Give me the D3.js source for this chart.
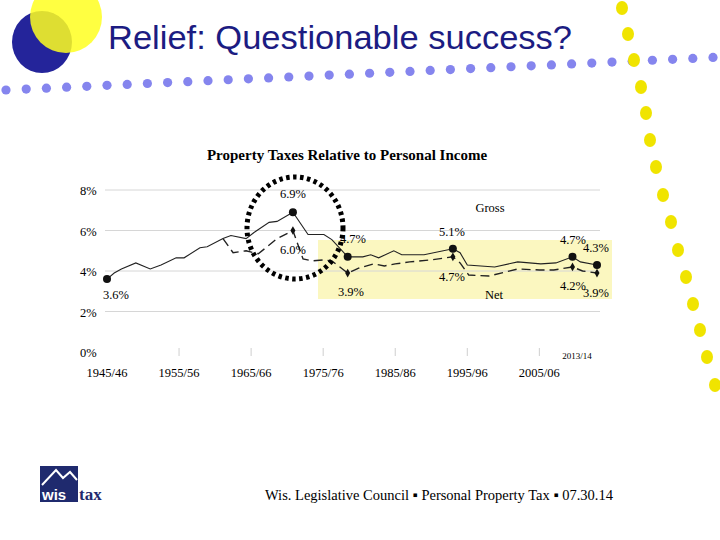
<!DOCTYPE html>
<html><head><meta charset="utf-8">
<script src="https://cdn.jsdelivr.net/npm/d3@7"></script>
<style>body{margin:0;background:#fff}</style></head>
<body><svg id="c" width="720" height="540"></svg>
<script>
const title = "Relief:  Questionable success?";
const chartTitle = "Property Taxes Relative to Personal Income";
const xTickYears = [1945,1955,1965,1975,1985,1995,2005];
const xTickLabels = ["1945/46","1955/56","1965/66","1975/76","1985/86","1995/96","2005/06"];
const yTicks = [0,2,4,6,8];
const grossYears = [1945,1946,1947,1949,1951,1952.5,1954.6,1955.7,1957.9,1958.9,1961.1,1962.2,1964.3,1965.4,1967.5,1968.6,1970.8,1972.9,1975.1,1976.2,1978.4,1980.5,1981.6,1982.7,1984.8,1985.9,1989,1993,1994,1995,1998.8,2002,2005.2,2007.3,2009.6,2010.7,2013];
const grossVals  = [3.6,3.9,4.1,4.4,4.1,4.3,4.65,4.65,5.15,5.2,5.6,5.75,5.6,5.9,6.4,6.45,6.9,5.8,5.8,5.55,4.7,4.7,4.8,4.65,5.0,4.8,4.8,5.1,4.9,4.3,4.2,4.45,4.35,4.4,4.7,4.45,4.3];
const netYears = [1961.1,1962.5,1964.3,1966,1968.6,1970.8,1972.2,1973.5,1975.1,1976.2,1978.4,1980,1982,1983.5,1985,1987,1990,1993,1994,1995.2,1998,2002,2005,2007,2009.6,2011,2013];
const netVals  = [5.6,4.9,5.0,4.85,5.6,6.0,4.6,4.5,4.55,4.5,3.9,4.15,4.35,4.25,4.35,4.45,4.55,4.7,4.4,3.8,3.75,4.1,4.05,4.05,4.2,4.0,3.9];
const grossMarkYears = [1945,1970.8,1978.4,1993,2009.6,2013];
const netMarkYears = [1970.8,1978.4,1993,2009.6,2013];
const blueDotsX = d3.range(0,36);
const yellowDots = [[622,8],[628,34],[634,60],[641,87],[646,113],[650,140],[656,167],[663,195],[671,222],[678,250],[686,277],[693,304],[700,330],[707,357],[715,385]];

const svg = d3.select("#c");
const x = d3.scaleLinear().domain([1945,2013]).range([107,597]);
const y = d3.scaleLinear().domain([0,8]).range([352,190]);

svg.append("ellipse").attr("cx",42).attr("cy",42).attr("rx",30).attr("ry",31).attr("fill","#24249a");
svg.append("circle").attr("cx",66).attr("cy",17).attr("r",36).attr("fill","#ffff20").attr("opacity",0.85);
svg.selectAll(".bd").data(blueDotsX).join("circle")
  .attr("cx",i=>6+i*20.2).attr("cy",i=>90-i*0.93).attr("r",4.6).attr("fill","#8585ee");
svg.selectAll(".yd").data(yellowDots).join("ellipse")
  .attr("cx",d=>d[0]).attr("cy",d=>d[1]).attr("rx",6).attr("ry",7).attr("fill","#f0e400");
svg.append("text").attr("x",108).attr("y",49).attr("font-family","Liberation Sans, Arial").attr("font-size",33)
  .attr("fill","#1c1c82").attr("textLength",464).attr("lengthAdjust","spacingAndGlyphs").text(title);

svg.append("rect").attr("x",318).attr("y",240).attr("width",294).attr("height",59).attr("fill","#fbf7c0");

svg.selectAll(".g").data(yTicks.filter(d=>d>0)).join("line")
  .attr("x1",105).attr("x2",600).attr("y1",d=>y(d)).attr("y2",d=>y(d)).attr("stroke","#d6d6d6");
svg.selectAll(".yl").data(yTicks).join("text").attr("x",80).attr("y",d=>y(d)+5)
  .attr("font-family","Liberation Serif").attr("font-size",12.5).text(d=>d+"%");
svg.selectAll(".tk").data(xTickYears.slice(1)).join("line")
  .attr("x1",d=>x(d)).attr("x2",d=>x(d)).attr("y1",348).attr("y2",356).attr("stroke","#cfcfcf");
svg.selectAll(".xl").data(xTickYears).join("text").attr("x",d=>x(d)).attr("y",377).attr("text-anchor","middle")
  .attr("font-family","Liberation Serif").attr("font-size",12.5).text((d,i)=>xTickLabels[i]);
svg.append("text").attr("x",x(2013)-20).attr("y",359).attr("text-anchor","middle")
  .attr("font-family","Liberation Serif").attr("font-size",9).text("2013/14");
svg.append("text").attr("x",347).attr("y",160).attr("text-anchor","middle").attr("font-weight","bold")
  .attr("font-family","Liberation Serif").attr("font-size",15).text(chartTitle);

const line = d3.line().x(d=>x(d[0])).y(d=>y(d[1]));
const gross = grossYears.map((t,i)=>[t,grossVals[i]]);
const net = netYears.map((t,i)=>[t,netVals[i]]);
svg.append("path").attr("d",line(gross)).attr("fill","none").attr("stroke","#222").attr("stroke-width",1.1);
svg.append("path").attr("d",line(net)).attr("fill","none").attr("stroke","#222").attr("stroke-width",1.4).attr("stroke-dasharray","9,5");
svg.selectAll(".gm").data(grossMarkYears).join("circle")
  .attr("cx",d=>x(d)).attr("cy",d=>y(grossVals[grossYears.indexOf(d)])).attr("r",4).attr("fill","#111");
svg.selectAll(".nm").data(netMarkYears).join("path")
  .attr("transform",d=>`translate(${x(d)},${y(netVals[netYears.indexOf(d)])})`)
  .attr("d",d3.symbol(d3.symbolDiamond,22)).attr("fill","#111");

svg.append("ellipse").attr("cx",295).attr("cy",228).attr("rx",48).attr("ry",51).attr("fill","none")
  .attr("stroke","#000").attr("stroke-width",5).attr("stroke-dasharray","3.5,3.5");

const ann = [["6.9%",293,198],["6.0%",293,254],["4.7%",353,243],["3.9%",351,296],["5.1%",452,236],["4.7%",452,281],
  ["Gross",490,212],["Net",494,299],["4.7%",573,244],["4.3%",596,252],["4.2%",573,290],["3.9%",596,297],["3.6%",116,299]];
svg.selectAll(".an").data(ann).join("text").attr("x",d=>d[1]).attr("y",d=>d[2]).attr("text-anchor","middle")
  .attr("font-family","Liberation Serif").attr("font-size",12.5).text(d=>d[0]);

svg.append("text").attr("x",265).attr("y",500).attr("font-family","Liberation Serif").attr("font-size",14.5)
  .text("Wis. Legislative Council ▪ Personal Property Tax ▪ 07.30.14");
svg.append("rect").attr("x",40).attr("y",466).attr("width",38).attr("height",36).attr("fill","#1f2a6e");
svg.append("path").attr("d","M42,485 L56,470 L63,478 L70,472 L77,480").attr("fill","none").attr("stroke","#fff").attr("stroke-width",2);
svg.append("text").attr("x",42).attr("y",500).attr("font-family","Liberation Sans").attr("font-weight","bold").attr("font-size",15).attr("fill","#fff").text("wis");
svg.append("text").attr("x",79).attr("y",500).attr("font-family","Liberation Serif").attr("font-weight","bold").attr("font-size",17).attr("fill","#1f2a6e").text("tax");
</script></body></html>
